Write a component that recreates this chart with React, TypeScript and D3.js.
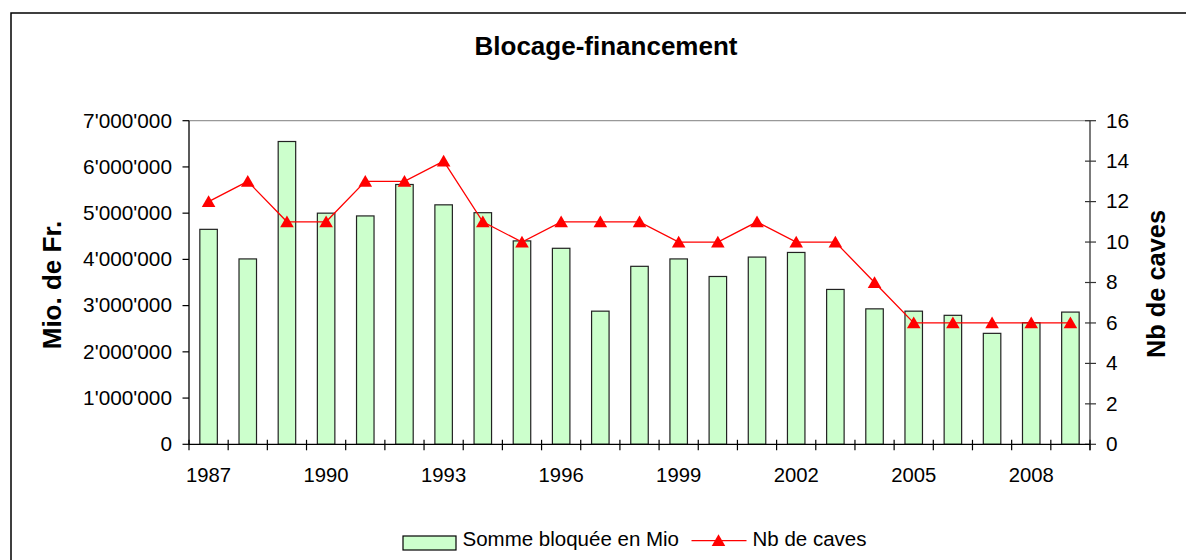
import React from 'react';
import * as d3 from 'd3';

// Blocage-financement, 1987-2009
const years = ['1987', '1988', '1989', '1990', '1991', '1992', '1993', '1994', '1995', '1996', '1997', '1998',
  '1999', '2000', '2001', '2002', '2003', '2004', '2005', '2006', '2007', '2008', '2009'];
const sommeBloquee = [4650000, 4010000, 6550000, 5000000, 4940000, 5620000, 5180000, 5010000, 4400000, 4240000,
  2880000, 3850000, 4010000, 3630000, 4050000, 4150000, 3350000, 2930000, 2880000, 2790000, 2400000, 2630000, 2860000];
const nbCaves = [12, 13, 11, 11, 13, 13, 14, 11, 10, 11, 11, 11, 10, 10, 11, 10, 10, 8, 6, 6, 6, 6, 6];
const leftTicks = [0, 1000000, 2000000, 3000000, 4000000, 5000000, 6000000, 7000000];
const rightTicks = [0, 2, 4, 6, 8, 10, 12, 14, 16];
const labelYears = ['1987', '1990', '1993', '1996', '1999', '2002', '2005', '2008'];

const W = 1186, H = 560;
const plot = { left: 189, right: 1090, top: 120.7, bottom: 444.3 };
const font = '"Liberation Sans", Arial, sans-serif';
const fmt = (v: number) => d3.format(',')(v).replace(/,/g, "'");

export default function App() {
  const x = d3.scaleBand().domain(years).range([plot.left, plot.right]).paddingInner(0).paddingOuter(0);
  const yL = d3.scaleLinear().domain([0, 7000000]).range([plot.bottom, plot.top]);
  const yR = d3.scaleLinear().domain([0, 16]).range([plot.bottom, plot.top]);
  const barW = 17.5;
  const tri = d3.symbol(d3.symbolTriangle, 80)() as string;
  const line = d3.line<number>()
    .x((_, i) => (x(years[i]) as number) + x.bandwidth() / 2)
    .y(d => yR(d));
  const bounds = years.map(y => x(y) as number).concat([plot.right]);

  return (
    <svg width={W} height={H} style={{ position: 'absolute', left: 0, top: 0, display: 'block', background: '#fff' }}
      fontFamily={font}>
      <rect x={11} y={13} width={1300} height={700} fill="#fff" stroke="#000" strokeWidth={1.5} />
      <text x={606} y={55} textAnchor="middle" fontSize={26} fontWeight="bold">Blocage-financement</text>

      {/* plot frame top */}
      <line x1={plot.left} x2={plot.right} y1={plot.top} y2={plot.top} stroke="#999" strokeWidth={1.2} />

      {/* bars */}
      {sommeBloquee.map((v, i) => {
        const cx = (x(years[i]) as number) + x.bandwidth() / 2;
        return <rect key={i} x={cx - barW / 2} y={yL(v)} width={barW} height={plot.bottom - yL(v)}
          fill="#CCFFCC" stroke="#222" strokeWidth={1.2} />;
      })}

      {/* line */}
      <path d={line(nbCaves) as string} fill="none" stroke="#FF0000" strokeWidth={1.3} />
      {nbCaves.map((v, i) => (
        <path key={i} d={tri} fill="#FF0000"
          transform={`translate(${(x(years[i]) as number) + x.bandwidth() / 2},${yR(v) + 1.5})`} />
      ))}

      {/* left axis */}
      <line x1={plot.left} x2={plot.left} y1={plot.top} y2={plot.bottom} stroke="#000" strokeWidth={1.3} />
      {leftTicks.map(t => (
        <g key={t}>
          <line x1={plot.left - 6.5} x2={plot.left} y1={yL(t)} y2={yL(t)} stroke="#000" strokeWidth={1.2} />
          <text x={172} y={yL(t)} dy="0.33em" textAnchor="end" fontSize={20.8}>{fmt(t)}</text>
        </g>
      ))}

      {/* right axis */}
      <line x1={plot.right} x2={plot.right} y1={plot.top} y2={plot.bottom + 6} stroke="#333" strokeWidth={1.3} />
      {rightTicks.map(t => (
        <g key={t}>
          <line x1={plot.right - 5} x2={plot.right + 6} y1={yR(t)} y2={yR(t)} stroke="#333" strokeWidth={1.2} />
          <text x={1106} y={yR(t)} dy="0.33em" textAnchor="start" fontSize={20.8}>{t}</text>
        </g>
      ))}

      {/* bottom axis */}
      <line x1={plot.left} x2={plot.right} y1={plot.bottom} y2={plot.bottom} stroke="#000" strokeWidth={1.3} />
      {bounds.map((b, i) => (
        <line key={i} x1={b} x2={b} y1={plot.bottom - 4.5} y2={plot.bottom + 6} stroke="#000" strokeWidth={1.2} />
      ))}
      {labelYears.map(yr => (
        <text key={yr} x={(x(yr) as number) + x.bandwidth() / 2} y={482} textAnchor="middle" fontSize={20.3}>{yr}</text>
      ))}

      {/* axis titles */}
      <text transform="translate(61,285) rotate(-90)" textAnchor="middle" fontSize={26} fontWeight="bold">Mio. de Fr.</text>
      <text transform="translate(1165,284) rotate(-90)" textAnchor="middle" fontSize={25.4} fontWeight="bold">Nb de caves</text>

      {/* legend */}
      <rect x={403} y={536} width={53} height={14} fill="#CCFFCC" stroke="#000" strokeWidth={1.2} />
      <text x={462.5} y={546} fontSize={20.5}>Somme bloquée en Mio</text>
      <line x1={691.5} x2={746.5} y1={540.7} y2={540.7} stroke="#FF0000" strokeWidth={1.3} />
      <path d={tri} fill="#FF0000" transform="translate(718.5,542)" />
      <text x={752.5} y={546} fontSize={20.5}>Nb de caves</text>
    </svg>
  );
}
